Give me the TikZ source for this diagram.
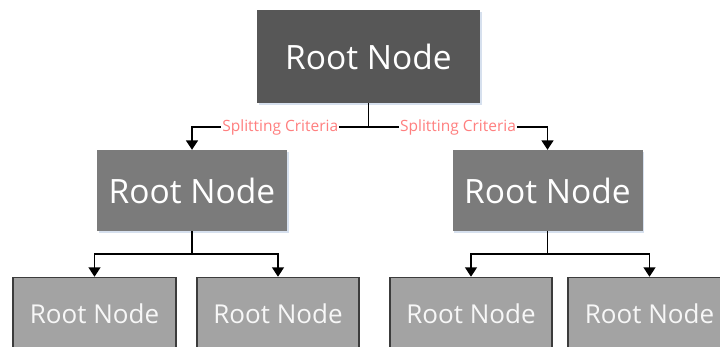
\documentclass[tikz,border=0pt]{standalone}
\usepackage{fontspec}
\setmainfont{Open Sans}
\usetikzlibrary{arrows.meta,calc}
\definecolor{rootfill}{HTML}{575757}
\definecolor{midfill}{HTML}{7B7B7B}
\definecolor{leaffill}{HTML}{A3A3A3}
\definecolor{leafline}{HTML}{3C3C3C}
\definecolor{critcol}{HTML}{FF7F7F}
\definecolor{glow}{HTML}{D6E0EE}
\tikzset{
  softshadow/.style={preaction={fill=glow, transform canvas={xshift=1.5pt, yshift=-1.5pt}}},
  rootbox/.style={softshadow, fill=rootfill, text=white, minimum width=223pt, minimum height=93pt,
    inner sep=0pt, font=\fontsize{33.5}{40}\selectfont},
  midbox/.style={softshadow, fill=midfill, text=white, minimum width=190pt, minimum height=81pt,
    inner sep=0pt, font=\fontsize{33.5}{40}\selectfont},
  leafbox/.style={fill=leaffill, draw=leafline, line width=1.5pt, text=white!94!gray,
    minimum width=162pt, minimum height=73pt, inner sep=0pt,
    font=\fontsize{26}{31}\selectfont},
  conn/.style={line width=1.6pt, draw=black},
  arrowconn/.style={conn, -{Triangle[length=9.5pt, width=12pt]}},
  crit/.style={fill=white, text=critcol, inner sep=1pt, font=\fontsize{15.5}{18}\selectfont}
}
\begin{document}
\begin{tikzpicture}[x=1pt, y=-1pt]
  \useasboundingbox (0,0) rectangle (720,346);

  % tree nodes
  \node[rootbox] (root) at (368.5,56.5) {Root Node};
  \node[midbox] (cL) at (192,190.5) {Root Node};
  \node[midbox] (cR) at (547.5,190.5) {Root Node};
  % leaves run past the lower edge of the page
  \node[leafbox, minimum width=163pt] (lLL) at (94.5,314) {Root Node};
  \node[leafbox] (lLR) at (278,314) {Root Node};
  \node[leafbox] (lRL) at (471,314) {Root Node};
  \node[leafbox, minimum width=163pt] (lRR) at (649.5,314) {Root Node};

  % junction points of the elbow connectors
  \coordinate (j0) at ($(root.south)+(0,24)$);
  \coordinate (jL) at ($(cL.south)+(0,23)$);
  \coordinate (jR) at ($(cR.south)+(0,23)$);

  % root to children
  \draw[conn] (root.south) -- (j0);
  \draw[arrowconn] (j0) -| node[pos=0.25, crit] {Splitting Criteria} (cL.north);
  \draw[arrowconn] (j0) -| node[pos=0.25, crit] {Splitting Criteria} (cR.north);

  % children to leaves
  \draw[conn] (cL.south) -- (jL);
  \draw[arrowconn] (jL) -| (lLL.north);
  \draw[arrowconn] (jL) -| (lLR.north);
  \draw[conn] (cR.south) -- (jR);
  \draw[arrowconn] (jR) -| (lRL.north);
  \draw[arrowconn] (jR) -| (lRR.north);
\end{tikzpicture}
\end{document}
